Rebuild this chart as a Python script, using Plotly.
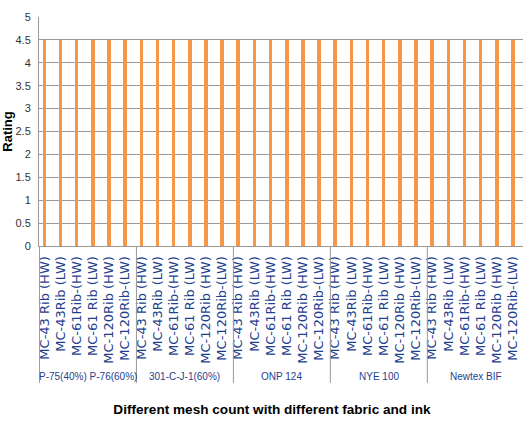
import plotly.graph_objects as go

# Fabric / ink groups and the mesh variants tested within each
groups = ["P-75(40%) P-76(60%)", "301-C-J-1(60%)", "ONP 124", "NYE 100", "Newtex BIF"]
meshes = ["MC-43 Rib (HW)", "MC-43Rib (LW)", "MC-61Rib-(HW)",
          "MC-61 Rib (LW)", "MC-120Rib (HW)", "MC-120Rib-(LW)"]
ratings = [4.5] * (len(groups) * len(meshes))

y_ticks = [0, 0.5, 1, 1.5, 2, 2.5, 3, 3.5, 4, 4.5, 5]
y_ticktext = ["0", "0.5", "1", "1.5", "2", "2.5", "3", "3.5", "4", "4.5", "5"]

labels = [m for _ in groups for m in meshes]
xs = list(range(len(labels)))

BLUE = "#1F3F8F"
GRID = "#9A9A9A"
SANS = "Liberation Sans, Arial, sans-serif"

fig = go.Figure()
fig.add_trace(go.Bar(
    x=xs, y=ratings, width=0.22,
    marker=dict(color="#F79646", line=dict(width=0)),
    hoverinfo="skip",
))

n = len(meshes)
shapes = []
annotations = []
# vertical separators between groups, running from the axis down past the group names
for g in range(len(groups) + 1):
    shapes.append(dict(type="line", xref="x", yref="paper",
                       x0=g * n - 0.3, x1=g * n - 0.3, y0=0, y1=-0.598,
                       line=dict(color=GRID, width=1)))
for g, name in enumerate(groups):
    annotations.append(dict(text=name, xref="x", yref="paper",
                            x=g * n + (n - 1) / 2 + 0.2, y=-0.568,
                            showarrow=False, xanchor="center", yanchor="middle",
                            font=dict(family=SANS, size=10, color=BLUE)))

fig.update_layout(
    width=523, height=427,
    margin=dict(l=39, r=0, t=17, b=181),
    paper_bgcolor="white", plot_bgcolor="white",
    showlegend=False,
    bargap=0,
    shapes=shapes,
    annotations=annotations,
    title=dict(text="<b>Different mesh count with different fabric and ink</b>",
               x=0.52, xref="container", xanchor="center",
               y=(427 - 409) / 427, yref="container", yanchor="middle",
               font=dict(family=SANS, size=13.6, color="black")),
    xaxis=dict(range=[-0.33, 29.62], tickmode="array", tickvals=xs, ticktext=labels,
               tickangle=-90, ticks="", ticklabelstandoff=4,
               tickfont=dict(family="DejaVu Sans", size=13, color=BLUE),
               showgrid=False, zeroline=False, showline=True, linecolor=GRID, linewidth=1,
               fixedrange=True),
    yaxis=dict(range=[0, 5], tickmode="array", tickvals=y_ticks, ticktext=y_ticktext,
               showgrid=True, gridcolor=GRID, gridwidth=1,
               zeroline=False, showline=True, linecolor=GRID, linewidth=1,
               ticks="", ticklabelstandoff=5,
               tickfont=dict(family=SANS, size=11, color="#333333"),
               title=dict(text="<b>Rating</b>", standoff=0,
                          font=dict(family=SANS, size=13, color="black")),
               fixedrange=True),
)

fig.write_html("out.html")
